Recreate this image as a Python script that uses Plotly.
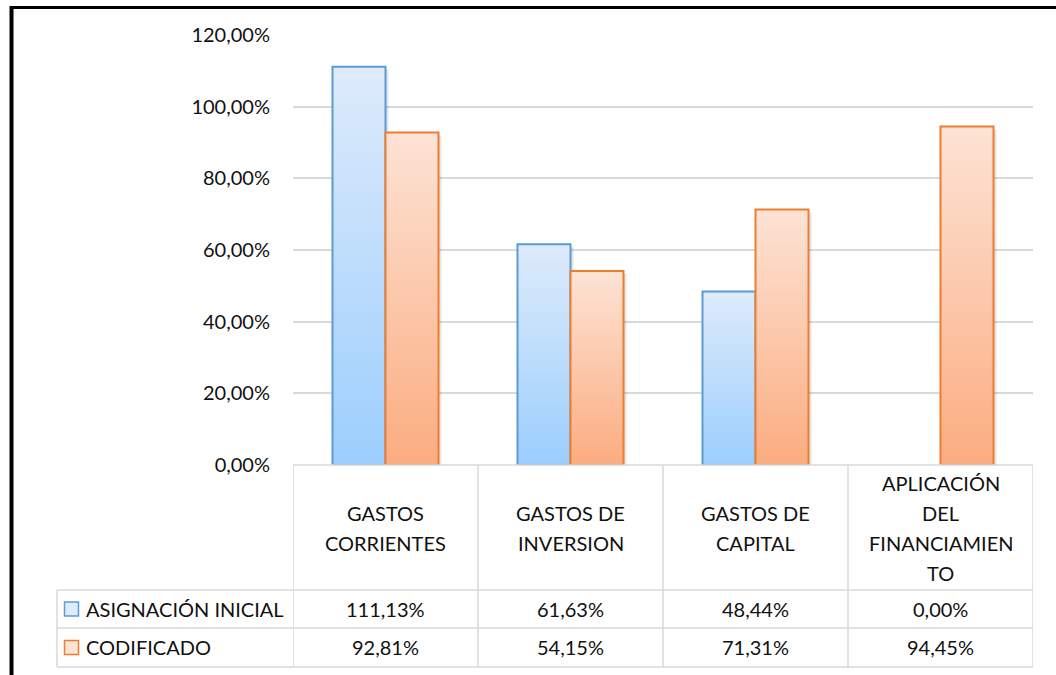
import plotly.graph_objects as go

# Budget execution by expense group
category_lines = [
    ["GASTOS", "CORRIENTES"],
    ["GASTOS DE", "INVERSION"],
    ["GASTOS DE", "CAPITAL"],
    ["APLICACIÓN", "DEL", "FINANCIAMIEN", "TO"],
]
series_names = ["ASIGNACIÓN INICIAL", "CODIFICADO"]
asignacion_inicial = [1.1113, 0.6163, 0.4844, 0.0]
codificado = [0.9281, 0.5415, 0.7131, 0.9445]
y_ticks = [0, 0.2, 0.4, 0.6, 0.8, 1.0, 1.2]

W, H = 1056, 675
PL, PR, PT, PB = 293, 1033, 35, 465  # plot-area edges in pixels

FONT = "Lato"
TXT = "#111111"
GRID = "#d9d9d9"

styles = [
    dict(line="#5b9bd5", top="#deebfb", bottom="#9ccefd"),
    dict(line="#ed7d31", top="#fde3d5", bottom="#fbac80"),
]

BAR_W = 53 / 185  # bar width in category units


def px_x(x):
    return (x - PL) / (PR - PL)


def px_y(y):
    return (PB - y) / (PB - PT)


fig = go.Figure()

for s, values in enumerate([asignacion_inicial, codificado]):
    st = styles[s]
    for i, v in enumerate(values):
        if v <= 0:
            continue
        x0 = i - BAR_W if s == 0 else i
        x1 = x0 + BAR_W
        # soft drop shadow
        dx, dy = 3 / 185, 3 / 430 * 1.2
        fig.add_trace(go.Scatter(
            x=[x0 + dx, x1 + dx, x1 + dx, x0 + dx, x0 + dx],
            y=[0, 0, v - dy, v - dy, 0],
            mode="lines", fill="toself",
            fillcolor="rgba(0,0,0,0.10)", line=dict(width=0),
            hoverinfo="skip", showlegend=False,
        ))
        fig.add_trace(go.Scatter(
            x=[x0, x1, x1, x0, x0],
            y=[0, 0, v, v, 0],
            mode="lines", fill="toself",
            fillgradient=dict(type="vertical",
                              colorscale=[[0, st["bottom"]], [1, st["top"]]]),
            line=dict(color=st["line"], width=2),
            name=series_names[s], hoverinfo="skip", showlegend=False,
        ))

shapes = []
annotations = []

# chart frame
shapes.append(dict(type="line", xref="paper", yref="paper",
                   x0=px_x(10), x1=px_x(W + 5), y0=px_y(7.5), y1=px_y(7.5),
                   line=dict(color="black", width=3)))
shapes.append(dict(type="line", xref="paper", yref="paper",
                   x0=px_x(11.5), x1=px_x(11.5), y0=px_y(6), y1=px_y(H + 5),
                   line=dict(color="black", width=4)))

# data table grid
row_top, row_mid, row_bot = 590, 628, 667
tline = dict(color=GRID, width=1.5)
shapes.append(dict(type="line", xref="paper", yref="paper",
                   x0=0, x1=1, y0=0, y1=0, line=tline))
for yy in (row_top, row_mid, row_bot):
    shapes.append(dict(type="line", xref="paper", yref="paper",
                       x0=px_x(57), x1=1, y0=px_y(yy), y1=px_y(yy), line=tline))
shapes.append(dict(type="line", xref="paper", yref="paper",
                   x0=px_x(57), x1=px_x(57), y0=px_y(row_top), y1=px_y(row_bot),
                   line=tline))
for k in range(len(category_lines) + 1):
    shapes.append(dict(type="line", xref="x", yref="paper",
                       x0=k - 0.5, x1=k - 0.5, y0=0, y1=px_y(row_bot), line=tline))

# header cells
header_center = (PB + row_top) / 2
line_gap = 30
for i, lines in enumerate(category_lines):
    n = len(lines)
    for j, t in enumerate(lines):
        yy = header_center + (j - (n - 1) / 2) * line_gap
        annotations.append(dict(x=i, y=px_y(yy), xref="x", yref="paper",
                                text=t, showarrow=False, xanchor="center",
                                yanchor="middle",
                                font=dict(family=FONT, size=20, color=TXT)))

# value rows with legend keys
row_centers = [(row_top + row_mid) / 2, (row_mid + row_bot) / 2]
for s, values in enumerate([asignacion_inicial, codificado]):
    yc = row_centers[s]
    st = styles[s]
    shapes.append(dict(type="rect", xref="paper", yref="paper",
                       x0=px_x(64.5), x1=px_x(78.5),
                       y0=px_y(yc + 7), y1=px_y(yc - 7),
                       fillcolor=st["top"], line=dict(color=st["line"], width=1.5)))
    annotations.append(dict(x=px_x(84), y=px_y(yc), xref="paper", yref="paper",
                            text=series_names[s], showarrow=False,
                            xanchor="left", yanchor="middle",
                            font=dict(family=FONT, size=20, color=TXT)))
    for i, v in enumerate(values):
        label = f"{v * 100:.2f}%".replace(".", ",")
        annotations.append(dict(x=i, y=px_y(yc), xref="x", yref="paper",
                                text=label, showarrow=False,
                                xanchor="center", yanchor="middle",
                                font=dict(family=FONT, size=20, color=TXT)))

fig.update_layout(
    width=W, height=H,
    margin=dict(l=PL, r=W - PR, t=PT, b=H - PB, pad=0),
    paper_bgcolor="white", plot_bgcolor="white",
    separators=",.",
    showlegend=False,
    hovermode=False,
    shapes=shapes,
    annotations=annotations,
    xaxis=dict(range=[-0.5, 3.5], showgrid=False, zeroline=False,
               showticklabels=False, showline=False, fixedrange=True),
    yaxis=dict(range=[0, 1.2], tickvals=y_ticks, tickformat=".2%",
               showgrid=True, gridcolor=GRID, gridwidth=1.5,
               zeroline=False, showline=False, ticks="",
               ticklabelstandoff=22,
               tickfont=dict(family=FONT, size=20, color=TXT),
               fixedrange=True),
)

fig.write_html("out.html", config={"displayModeBar": False})
